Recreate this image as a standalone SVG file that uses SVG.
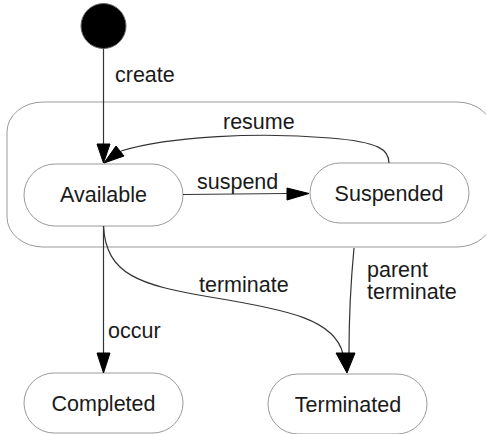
<svg xmlns="http://www.w3.org/2000/svg" width="486" height="434" viewBox="0 0 486 434">
<style>
.node rect{fill:#fff;stroke:#9a9a9a;stroke-width:1}
.lbl{font-family:"Liberation Sans",Arial,sans-serif;font-size:21.5px;fill:#1a1a1a}
.c{text-anchor:middle}
.edge{fill:none;stroke:#333;stroke-width:1.2}
.head{fill:#000;stroke:#000;stroke-width:1}
</style>
<rect id="cluster" x="7" y="102" width="486" height="145" rx="36" ry="30" fill="#fff" stroke="#9a9a9a" stroke-width="1"/>
<g id="start"><circle cx="103.5" cy="26" r="22.5" fill="#000" stroke="#666" stroke-width="1"/></g>
<g id="Available" class="node"><rect x="24" y="164" width="159" height="62" rx="31"/><text class="lbl c" x="103.5" y="202">Available</text></g>
<g id="Suspended" class="node"><rect x="310" y="163" width="159" height="60" rx="30"/><text class="lbl c" x="389" y="201">Suspended</text></g>
<g id="Completed" class="node"><rect x="24" y="373" width="159" height="60" rx="30"/><text class="lbl c" x="103.5" y="411">Completed</text></g>
<g id="Terminated" class="node"><rect x="268" y="374" width="159" height="60" rx="30"/><text class="lbl c" x="348" y="412">Terminated</text></g>
<g id="connectors">
<path class="edge" d="M103.5,48.5 V144"/>
<polygon class="head" points="97,144 110,144 103.5,163"/>
<text class="lbl" x="115" y="82">create</text>
<path class="edge" d="M389,163 C389,150 380,142 330,138 C260,132 170,136 121,151"/>
<polygon class="head" points="116,146 124,156 104,163"/>
<text class="lbl" x="223" y="129">resume</text>
<path class="edge" d="M183,194.5 L287,193.5"/>
<polygon class="head" points="287,188 287,200 309,193.5"/>
<text class="lbl" x="197" y="189">suspend</text>
<path class="edge" d="M103.5,226 V353"/>
<polygon class="head" points="97,353 110,353 103.5,373"/>
<text class="lbl" x="108" y="338">occur</text>
<path class="edge" d="M103.5,226 C106,275 140,285 210,297 C290,310 335,320 343,354"/>
<path class="edge" d="M354,248 C350,290 349,320 349,353"/>
<polygon class="head" points="336,353 355,353 347,373"/>
<text class="lbl" x="199" y="292">terminate</text>
<text class="lbl" x="367" y="277">parent</text>
<text class="lbl" x="367" y="299">terminate</text>
</g>
</svg>
